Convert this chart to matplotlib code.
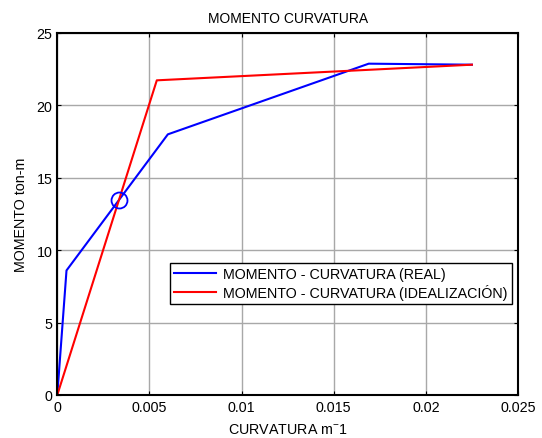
import matplotlib
matplotlib.use("Agg")
import matplotlib.pyplot as plt
from matplotlib.ticker import FuncFormatter

plt.rcParams['font.family'] = ['Liberation Sans', 'DejaVu Sans']
plt.rcParams['mathtext.fontset'] = 'custom'
plt.rcParams['mathtext.rm'] = 'Liberation Sans'
plt.rcParams['mathtext.it'] = 'Liberation Sans'

# curva real
curv_real = [0.0, 0.0005, 0.0060, 0.0169, 0.0225]
mom_real = [0.0, 8.6, 18.0, 22.88, 22.81]

# curva idealizada
curv_ideal = [0.0, 0.0054, 0.0225]
mom_ideal = [0.0, 21.73, 22.81]

# punto marcado
curv_pt = [0.00337]
mom_pt = [13.47]

x_ticks = [0, 0.005, 0.01, 0.015, 0.02, 0.025]
y_ticks = [0, 5, 10, 15, 20, 25]

fig = plt.figure(figsize=(5.42, 4.39), dpi=100)
ax = fig.add_axes([0.1057, 0.098, 0.85, 0.8246])

ax.plot(curv_real, mom_real, color='#0000ff', linewidth=1.5,
        label='MOMENTO - CURVATURA (REAL)')
ax.plot(curv_ideal, mom_ideal, color='#ff0000', linewidth=1.5,
        label='MOMENTO - CURVATURA (IDEALIZACIÓN)')
ax.plot(curv_pt, mom_pt, 'o', markersize=11.5, markerfacecolor='none',
        markeredgecolor='#0000ff', markeredgewidth=1.3)

ax.set_xlim(0, 0.025)
ax.set_ylim(0, 25)
ax.set_xticks(x_ticks)
ax.set_yticks(y_ticks)
ax.xaxis.set_major_formatter(FuncFormatter(lambda v, p: '%g' % v))
ax.tick_params(direction='in', top=True, right=True, labelsize=10.3, length=3, width=0.8)
ax.grid(True, color='#a8a8a8', linewidth=1.0)
for s in ax.spines.values():
    s.set_linewidth(1.5)

ax.set_title('MOMENTO CURVATURA', fontsize=10, pad=8)
ax.set_xlabel('CURVATURA m$^{-}$1', fontsize=10.3, labelpad=6)
ax.set_ylabel('MOMENTO ton-m', fontsize=10.3, labelpad=6)

leg = ax.legend(loc='upper left', bbox_to_anchor=(170 / 542, 1 - 264 / 439),
                bbox_transform=fig.transFigure, fontsize=10.3, frameon=True,
                fancybox=False, borderpad=0.3, handlelength=2.9,
                handletextpad=0.5, labelspacing=0.2, borderaxespad=0)
leg.get_frame().set_edgecolor('black')
leg.get_frame().set_linewidth(1.0)
leg.get_frame().set_alpha(1)

fig.savefig('out.png', dpi=100)
